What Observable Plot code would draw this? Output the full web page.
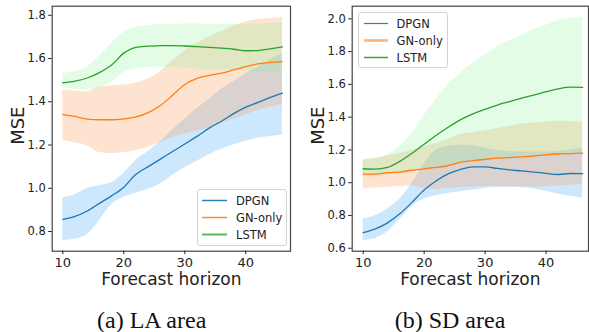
<!DOCTYPE html>
<html><head><meta charset="utf-8">
<script src="https://cdn.jsdelivr.net/npm/d3@7"></script>
<script src="https://cdn.jsdelivr.net/npm/@observablehq/plot@0.6"></script>
<style>
html,body{margin:0;padding:0;background:#fff;}
body{width:589px;height:332px;overflow:hidden;position:relative;font-family:"DejaVu Sans",sans-serif;}
.panel{position:absolute;top:0;}
.caption{position:absolute;font-family:"Liberation Serif","Times New Roman",serif;font-size:24px;line-height:24px;color:#111;white-space:nowrap;transform:translateX(-50%);}
.legend{position:absolute;box-sizing:border-box;background:rgba(255,255,255,0.85);border:1px solid #d3d3d3;border-radius:3px;font-family:"DejaVu Sans",sans-serif;font-size:11.5px;color:#222;}
.legend .row{position:absolute;left:0;height:17px;display:flex;align-items:center;white-space:nowrap;}
.legend svg{display:block;}
</style>
</head><body>
<script>
// ---- data ----
const horizon = [10,12,14,16,18,20,22,24,26,28,30,32,34,36,38,40,42,44,46];
const xTicks = [10,20,30,40];
const laYTicks = [0.8,1.0,1.2,1.4,1.6,1.8];
const sdYTicks = [0.6,0.8,1.0,1.2,1.4,1.6,1.8,2.0];
const seriesNames = ["DPGN","GN-only","LSTM"];
const captions = ["(a) LA area","(b) SD area"];
const xLabel = "Forecast horizon";
const yLabel = "MSE";

// LA area
const laDpgnMean = [0.856,0.870,0.895,0.930,0.965,1.005,1.065,1.100,1.135,1.170,1.205,1.240,1.278,1.310,1.345,1.375,1.397,1.420,1.440];
const laDpgnLow  = [0.759,0.765,0.785,0.850,0.925,0.959,0.977,0.995,1.020,1.060,1.095,1.125,1.155,1.180,1.200,1.217,1.232,1.240,1.245];
const laDpgnHigh = [0.955,0.970,1.000,1.012,1.025,1.070,1.130,1.170,1.215,1.270,1.320,1.368,1.410,1.458,1.493,1.530,1.560,1.594,1.622];
const laGnMean   = [1.341,1.332,1.320,1.317,1.317,1.321,1.330,1.350,1.383,1.430,1.480,1.508,1.522,1.532,1.547,1.563,1.575,1.582,1.586];
const laGnLow    = [1.221,1.210,1.195,1.165,1.160,1.165,1.175,1.190,1.210,1.235,1.250,1.265,1.280,1.300,1.320,1.340,1.360,1.375,1.385];
const laGnHigh   = [1.455,1.450,1.446,1.468,1.473,1.478,1.487,1.505,1.540,1.590,1.635,1.670,1.700,1.725,1.750,1.770,1.780,1.785,1.790];
const laLstmMean = [1.488,1.495,1.510,1.535,1.570,1.625,1.652,1.657,1.660,1.660,1.658,1.655,1.652,1.648,1.643,1.636,1.637,1.645,1.654];
const laLstmLow  = [1.465,1.458,1.455,1.465,1.490,1.535,1.553,1.560,1.560,1.558,1.555,1.552,1.550,1.548,1.545,1.543,1.541,1.540,1.538];
const laLstmHigh = [1.529,1.540,1.560,1.610,1.670,1.720,1.745,1.752,1.757,1.758,1.760,1.760,1.758,1.757,1.757,1.758,1.760,1.762,1.765];

// SD area
const sdDpgnMean = [0.695,0.718,0.755,0.810,0.880,0.955,1.012,1.055,1.082,1.097,1.097,1.087,1.078,1.072,1.065,1.057,1.050,1.056,1.055];
const sdDpgnLow  = [0.648,0.660,0.700,0.775,0.855,0.900,0.920,0.935,0.945,0.955,0.965,0.970,0.972,0.970,0.962,0.948,0.930,0.918,0.906];
const sdDpgnHigh = [0.777,0.800,0.840,0.900,0.995,1.115,1.200,1.222,1.228,1.225,1.210,1.197,1.190,1.187,1.187,1.188,1.190,1.200,1.215];
const sdGnMean   = [1.052,1.052,1.061,1.065,1.076,1.085,1.093,1.105,1.125,1.135,1.143,1.150,1.153,1.158,1.163,1.170,1.175,1.178,1.181];
const sdGnLow    = [0.963,0.967,0.972,0.978,0.980,0.965,0.960,0.965,0.970,0.975,0.977,0.977,0.976,0.975,0.974,0.976,0.980,0.985,0.990];
const sdGnHigh   = [1.140,1.150,1.165,1.180,1.197,1.220,1.240,1.265,1.295,1.305,1.315,1.330,1.345,1.358,1.365,1.370,1.375,1.373,1.370];
const sdLstmMean = [1.085,1.083,1.093,1.130,1.180,1.235,1.290,1.340,1.385,1.420,1.448,1.474,1.495,1.516,1.535,1.555,1.573,1.583,1.582];
const sdLstmLow  = [1.035,1.035,1.045,1.060,1.075,1.090,1.100,1.110,1.125,1.135,1.145,1.150,1.155,1.160,1.165,1.170,1.175,1.178,1.180];
const sdLstmHigh = [1.140,1.145,1.170,1.220,1.300,1.410,1.510,1.600,1.670,1.730,1.780,1.830,1.865,1.900,1.935,1.960,1.990,2.003,2.006];

// ---- styling ----
const lineColors = ["#1f77b4","#ff7f0e","#2ca02c"];
const bandColors = ["#5ab4f5","#fa9a5a","#8df29a"];
const bandOpacity = [0.30,0.28,0.25];

function rows(mean, lo, hi){ return horizon.map((h,i)=>({h, mean:mean[i], lo:lo[i], hi:hi[i]})); }

function panel(o){
  const series = o.series;
  return Plot.plot({
    width:o.width, height:290,
    marginLeft:o.ml, marginRight:o.mr, marginTop:5.7, marginBottom:39.3,
    x:{domain:o.xd}, y:{domain:o.yd},
    style:{fontFamily:"DejaVu Sans", color:"#222", background:"transparent", overflow:"visible"},
    marks:[
      ...series.map((s,i)=>Plot.areaY(s,{x:"h",y1:"lo",y2:"hi",fill:bandColors[i],fillOpacity:bandOpacity[i],curve:"monotone-x"})),
      ...series.map((s,i)=>Plot.lineY(s,{x:"h",y:"mean",stroke:lineColors[i],strokeWidth:1.3,curve:"monotone-x"})),
      Plot.frame({stroke:"#444",strokeWidth:1.2}),
      Plot.axisX({ticks:xTicks,tickSize:3.5,tickPadding:3,fontSize:13,label:null}),
      Plot.axisY({ticks:o.yticks,tickFormat:d3.format(".1f"),tickSize:3.5,tickPadding:3,fontSize:11.5,label:null}),
      Plot.text([xLabel],{text:d=>d,frameAnchor:"bottom",lineAnchor:"middle",textAnchor:"middle",dy:28.5,fontSize:17}),
      Plot.text([yLabel],{text:d=>d,frameAnchor:"left",lineAnchor:"middle",textAnchor:"middle",rotate:-90,dx:-34,dy:-3,fontSize:18})
    ]
  });
}

function addPanel(left, o){
  const div=document.createElement("div");
  div.className="panel"; div.style.left=left+"px";
  div.appendChild(panel(o));
  document.body.appendChild(div);
}

addPanel(0,{width:295, ml:51.7, mr:5, xd:[8.26,47.33], yd:[0.709,1.842], yticks:laYTicks,
  series:[rows(laDpgnMean,laDpgnLow,laDpgnHigh), rows(laGnMean,laGnLow,laGnHigh), rows(laLstmMean,laLstmLow,laLstmHigh)]});
addPanel(295,{width:294, ml:56.7, mr:1, xd:[8.2,46.95], yd:[0.582,2.077], yticks:sdYTicks,
  series:[rows(sdDpgnMean,sdDpgnLow,sdDpgnHigh), rows(sdGnMean,sdGnLow,sdGnHigh), rows(sdLstmMean,sdLstmLow,sdLstmHigh)]});

// legends
function legend(box, swatches){
  const L=document.createElement("div"); L.className="legend";
  Object.assign(L.style,{left:box.x+"px",top:box.y+"px",width:box.w+"px",height:box.h+"px"});
  seriesNames.forEach((name,i)=>{
    const r=document.createElement("div"); r.className="row";
    r.style.top=(box.rowTop+i*17-8.5)+"px";
    const sw=swatches[i];
    r.innerHTML=`<svg width="${box.textX}" height="17"><line x1="${box.lineX0}" x2="${box.lineX1}" y1="8.5" y2="8.5" stroke="${sw.c}" stroke-width="${sw.w}"/></svg><span>${name}</span>`;
    L.appendChild(r);
  });
  document.body.appendChild(L);
}
legend({x:197,y:189,w:90,h:57,rowTop:10.5,lineX0:4,lineX1:29,textX:38},
  [{c:"#2f7fba",w:1.5},{c:"#ff8a2a",w:1.5},{c:"#5cb85c",w:2}]);
legend({x:357.5,y:12,w:90,h:56,rowTop:10.5,lineX0:5,lineX1:29,textX:38},
  [{c:"#2f7fba",w:1.2},{c:"#ffb27a",w:2.6},{c:"#3aa53a",w:1.5}]);

// captions
[[151.7,307.5],[450,307.5]].forEach(([x,y],i)=>{
  const c=document.createElement("div"); c.className="caption";
  c.style.left=x+"px"; c.style.top=y+"px"; c.textContent=captions[i];
  document.body.appendChild(c);
});
</script>
</body></html>
